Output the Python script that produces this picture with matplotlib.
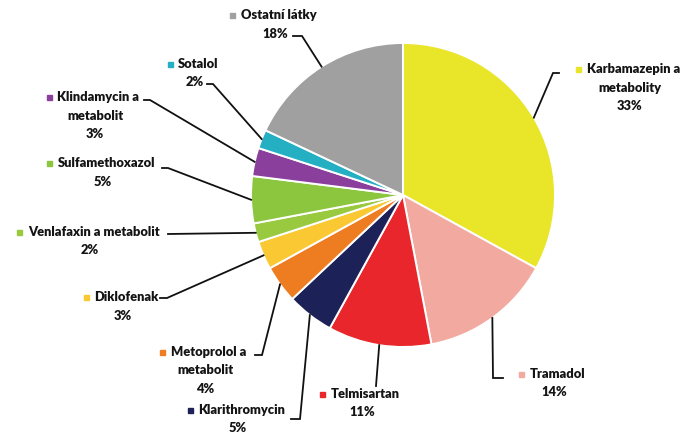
import matplotlib
matplotlib.use("Agg")
import matplotlib.pyplot as plt
import numpy as np

# Substances and their share of the total (%)
names = ["Karbamazepin a\nmetabolity", "Tramadol", "Telmisartan", "Klarithromycin",
         "Metoprolol a\nmetabolit", "Diklofenak", "Venlafaxin a metabolit",
         "Sulfamethoxazol", "Klindamycin a\nmetabolit", "Sotalol", "Ostatní látky"]
shares = [33, 14, 11, 5, 4, 3, 2, 5, 3, 2, 18]
colors = ["#E9E528", "#F2AAA0", "#E8262B", "#1C2158", "#EE7D22", "#F9C832",
          "#98C93F", "#8CC63F", "#8B3F9C", "#24AFC3", "#A0A0A0"]

W, H = 685, 437
CENTER = (403, 195)
RADIUS = 152

# label block centres (x, first-line y) and the text-side end of each leader
label_pos = [(628, 69), (552, 374), (360, 394), (236, 410), (203, 352), (121, 297),
             (88, 232), (101, 163), (93, 97), (193, 64), (273, 15)]
leader_pts = [[(559, 73), (553, 73)], [(503, 378), (493, 378)], [(376, 386)],
              [(291, 419), (300, 419)], [(255, 355), (262, 355)], [(160, 298), (167, 298)],
              [(168, 234)], [(162, 168), (168, 168)], [(144, 100), (150, 100)],
              [(207, 84), (213, 84)], [(293, 36), (302, 36)]]

FONT = dict(family=["Lato", "DejaVu Sans"], fontweight="heavy", fontsize=9.3, color="#141414")
LINE_STEP = 18.5

fig = plt.figure(figsize=(W / 100, H / 100), dpi=100)
ax = fig.add_axes([0, 0, 1, 1])

wedges, _ = ax.pie(shares, colors=colors, startangle=-90, counterclock=True,
                   center=CENTER, radius=RADIUS,
                   wedgeprops=dict(edgecolor="white", linewidth=1.4))
ax.set_aspect("auto")
ax.set_xlim(0, W)
ax.set_ylim(H, 0)
ax.axis("off")

renderer = fig.canvas.get_renderer()

for wedge, name, val, col, (cx, cy), pts in zip(wedges, names, shares, colors,
                                                 label_pos, leader_pts):
    lines = name.split("\n") + [f"{val}%"]
    # first line carries the colour key
    t = ax.text(0, cy, lines[0], ha="left", va="center", **FONT)
    w = t.get_window_extent(renderer).width
    key, gap = 5, 6
    start = cx - (key + gap + w) / 2
    t.set_x(start + key + gap)
    ax.plot([start + key / 2], [cy], marker="s", ms=3.6, color=col, mec=col)
    for i, ln in enumerate(lines[1:], start=1):
        ax.text(cx + 2, cy + i * LINE_STEP, ln, ha="center", va="center", **FONT)

    # leader from the label to the wedge edge at its mid-angle
    mid = np.deg2rad((wedge.theta1 + wedge.theta2) / 2)
    ex = CENTER[0] + RADIUS * np.cos(mid)
    ey = CENTER[1] + RADIUS * np.sin(mid)
    xs = [p[0] for p in pts] + [ex]
    ys = [p[1] for p in pts] + [ey]
    ax.plot(xs, ys, color="#111111", lw=1.3, solid_joinstyle="miter")

fig.savefig("out.png", dpi=100, facecolor="white")
